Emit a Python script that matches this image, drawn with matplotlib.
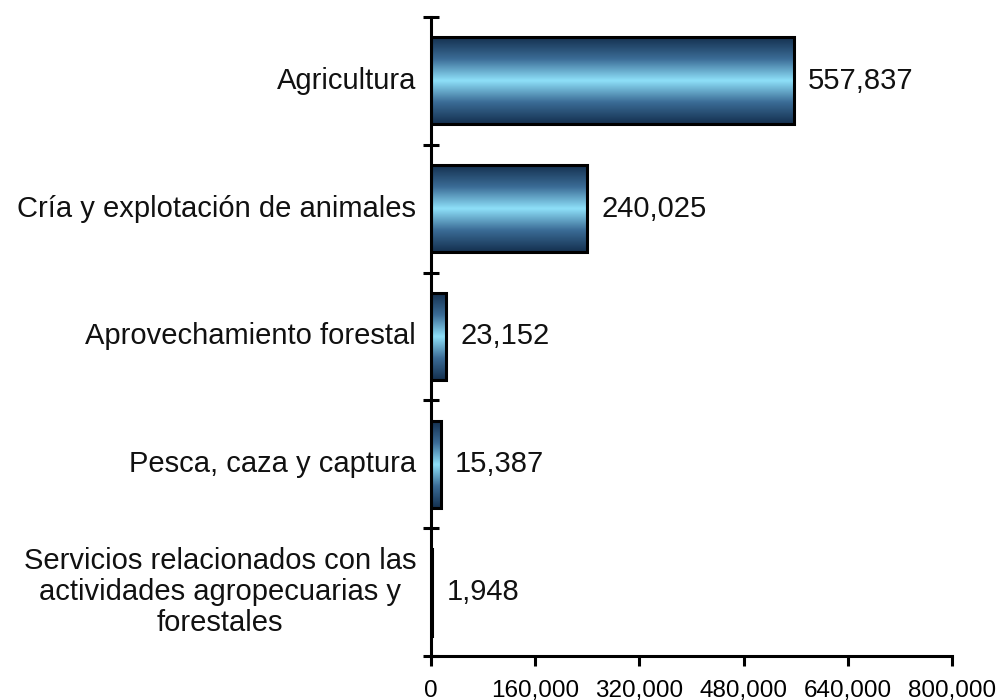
import numpy as np
import matplotlib.pyplot as plt
from matplotlib.colors import LinearSegmentedColormap

plt.rcParams['font.family'] = ['Liberation Sans', 'DejaVu Sans']

categories = [
    "Agricultura",
    "Cría y explotación de animales",
    "Aprovechamiento forestal",
    "Pesca, caza y captura",
    "Servicios relacionados con las\nactividades agropecuarias y\nforestales",
]
values = [557837, 240025, 23152, 15387, 1948]
value_labels = ["557,837", "240,025", "23,152", "15,387", "1,948"]
x_ticks = [0, 160000, 320000, 480000, 640000, 800000]
x_tick_labels = ["0", "160,000", "320,000", "480,000", "640,000", "800,000"]

fig = plt.figure(figsize=(10.01, 7.0), dpi=100)
ax = fig.add_axes([0.4306, 0.0629, 0.951 - 0.4306, 0.9757 - 0.0629])

cmap = LinearSegmentedColormap.from_list(
    "bar_grad", ["#14304f", "#3b6c96", "#8ee0f9", "#3b6c96", "#14304f"])
grad = np.linspace(0, 1, 256).reshape(-1, 1)

n = len(categories)
ypos = np.arange(n)[::-1]
bar_h = 0.68

for y, v, lab in zip(ypos, values, value_labels):
    ax.imshow(grad, extent=[0, v, y - bar_h / 2, y + bar_h / 2],
              aspect='auto', cmap=cmap, origin='upper', zorder=2,
              interpolation='bicubic')
    ax.barh(y, v, height=bar_h, facecolor='none', edgecolor='black',
            linewidth=2.2, zorder=3)
    ax.text(v + 21500, y, lab, va='center', ha='left', fontsize=21,
            color='#111111')

ax.set_xlim(0, 800000)
ax.set_ylim(-0.5, n - 0.5)

ax.set_xticks(x_ticks)
ax.set_xticklabels(x_tick_labels, fontsize=17.5)
ax.set_yticks(np.arange(n + 1) - 0.5)
ax.set_yticklabels([])
ax.tick_params(axis='x', direction='out', length=7, width=2.2, pad=10)
ax.tick_params(axis='y', direction='inout', length=12, width=2.2)

for y, cat in zip(ypos, categories):
    ax.text(-23000, y, cat, ha='right', va='center', fontsize=21,
            multialignment='center', color='#111111', linespacing=1.15)

for s in ['top', 'right']:
    ax.spines[s].set_visible(False)
for s in ['left', 'bottom']:
    ax.spines[s].set_linewidth(2.2)

fig.savefig("out.png", dpi=100)
